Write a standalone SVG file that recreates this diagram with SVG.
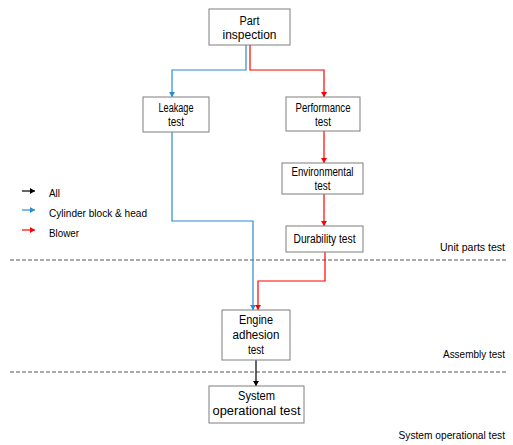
<svg xmlns="http://www.w3.org/2000/svg" width="513" height="445" viewBox="0 0 513 445">
<style>
.box{fill:#fff;stroke:#7f7f7f;stroke-width:1}
.t{font-family:"Liberation Sans",Arial,sans-serif;font-size:12.5px;fill:#000;text-anchor:middle}
.s{font-family:"Liberation Sans",Arial,sans-serif;font-size:11px;fill:#000}
.r{text-anchor:end}
.c{fill:none;stroke-width:1.2}
.bl{stroke:#2a8ad4}
.rd{stroke:#ff0000}
.bk{stroke:#000}
.dash{stroke:#555;stroke-width:1;stroke-dasharray:4 2}
</style>
<defs>
<marker id="ab" markerUnits="userSpaceOnUse" markerWidth="6" markerHeight="6" refX="5" refY="3" orient="auto"><path d="M0,0 L5,3 L0,6 Z" fill="#2a8ad4"/></marker>
<marker id="ar" markerUnits="userSpaceOnUse" markerWidth="6" markerHeight="6" refX="5" refY="3" orient="auto"><path d="M0,0 L5,3 L0,6 Z" fill="#ff0000"/></marker>
<marker id="ak" markerUnits="userSpaceOnUse" markerWidth="6" markerHeight="6" refX="5" refY="3" orient="auto"><path d="M0,0 L5,3 L0,6 Z" fill="#000"/></marker>
</defs>
<g id="separators">
<line class="dash" x1="10" y1="260" x2="507" y2="260"/>
<line class="dash" x1="10" y1="372" x2="507" y2="372"/>
</g>
<g id="stage-labels">
<text class="s r" x="505" y="251" textLength="65" lengthAdjust="spacingAndGlyphs">Unit parts test</text>
<text class="s r" x="505" y="358" textLength="62" lengthAdjust="spacingAndGlyphs">Assembly test</text>
<text class="s r" x="505" y="439" style="font-size:10.2px">System operational test</text>
</g>
<g id="legend">
<path class="c bk" d="M22,191 H35" marker-end="url(#ak)"/>
<path class="c bl" d="M22,210 H35" marker-end="url(#ab)"/>
<path class="c rd" d="M22,230 H35" marker-end="url(#ar)"/>
<text class="s" x="49" y="197" textLength="11" lengthAdjust="spacingAndGlyphs">All</text>
<text class="s" x="49" y="217" textLength="98" lengthAdjust="spacingAndGlyphs">Cylinder block &amp; head</text>
<text class="s" x="49" y="237" textLength="30" lengthAdjust="spacingAndGlyphs">Blower</text>
</g>
<g id="connectors">
<path class="c bl" d="M246,45 V70 H172 V97" marker-end="url(#ab)"/>
<path class="c rd" d="M250,45 V70 H324 V97" marker-end="url(#ar)"/>
<path class="c rd" d="M324,131 V163" marker-end="url(#ar)"/>
<path class="c rd" d="M324,194 V226" marker-end="url(#ar)"/>
<path class="c bl" d="M172,132 V221 H253 V310" marker-end="url(#ab)"/>
<path class="c rd" d="M325,252 V281 H258 V310" marker-end="url(#ar)"/>
<path class="c bk" d="M256,360 V386" marker-end="url(#ak)"/>
</g>
<g id="part-inspection">
<rect class="box" x="209" y="9" width="81" height="36"/>
<text class="t"><tspan x="249.5" y="25" textLength="20" lengthAdjust="spacingAndGlyphs">Part</tspan><tspan x="249.5" y="39" textLength="54" lengthAdjust="spacingAndGlyphs">inspection</tspan></text>
</g>
<g id="leakage-test">
<rect class="box" x="143" y="97" width="66" height="35"/>
<text class="t"><tspan x="176" y="112" textLength="35" lengthAdjust="spacingAndGlyphs">Leakage</tspan><tspan x="176" y="126" textLength="16" lengthAdjust="spacingAndGlyphs">test</tspan></text>
</g>
<g id="performance-test">
<rect class="box" x="286" y="97" width="74" height="34"/>
<text class="t"><tspan x="323" y="112" textLength="55" lengthAdjust="spacingAndGlyphs">Performance</tspan><tspan x="323" y="126" textLength="16" lengthAdjust="spacingAndGlyphs">test</tspan></text>
</g>
<g id="environmental-test">
<rect class="box" x="282" y="163" width="81" height="31"/>
<text class="t"><tspan x="322.5" y="176" textLength="62" lengthAdjust="spacingAndGlyphs">Environmental</tspan><tspan x="322.5" y="190" textLength="16" lengthAdjust="spacingAndGlyphs">test</tspan></text>
</g>
<g id="durability-test">
<rect class="box" x="286" y="226" width="77" height="26"/>
<text class="t" x="324.5" y="243" textLength="62" lengthAdjust="spacingAndGlyphs">Durability test</text>
</g>
<g id="engine-adhesion-test">
<rect class="box" x="222" y="310" width="68" height="50"/>
<text class="t"><tspan x="256" y="324" textLength="34" lengthAdjust="spacingAndGlyphs">Engine</tspan><tspan x="256" y="339" textLength="47" lengthAdjust="spacingAndGlyphs">adhesion</tspan><tspan x="256" y="354" textLength="16" lengthAdjust="spacingAndGlyphs">test</tspan></text>
</g>
<g id="system-operational-test">
<rect class="box" x="209" y="386" width="95" height="37"/>
<text class="t"><tspan x="256.5" y="400" textLength="37" lengthAdjust="spacingAndGlyphs">System</tspan><tspan x="256.5" y="415" textLength="88" lengthAdjust="spacingAndGlyphs">operational test</tspan></text>
</g>
</svg>
